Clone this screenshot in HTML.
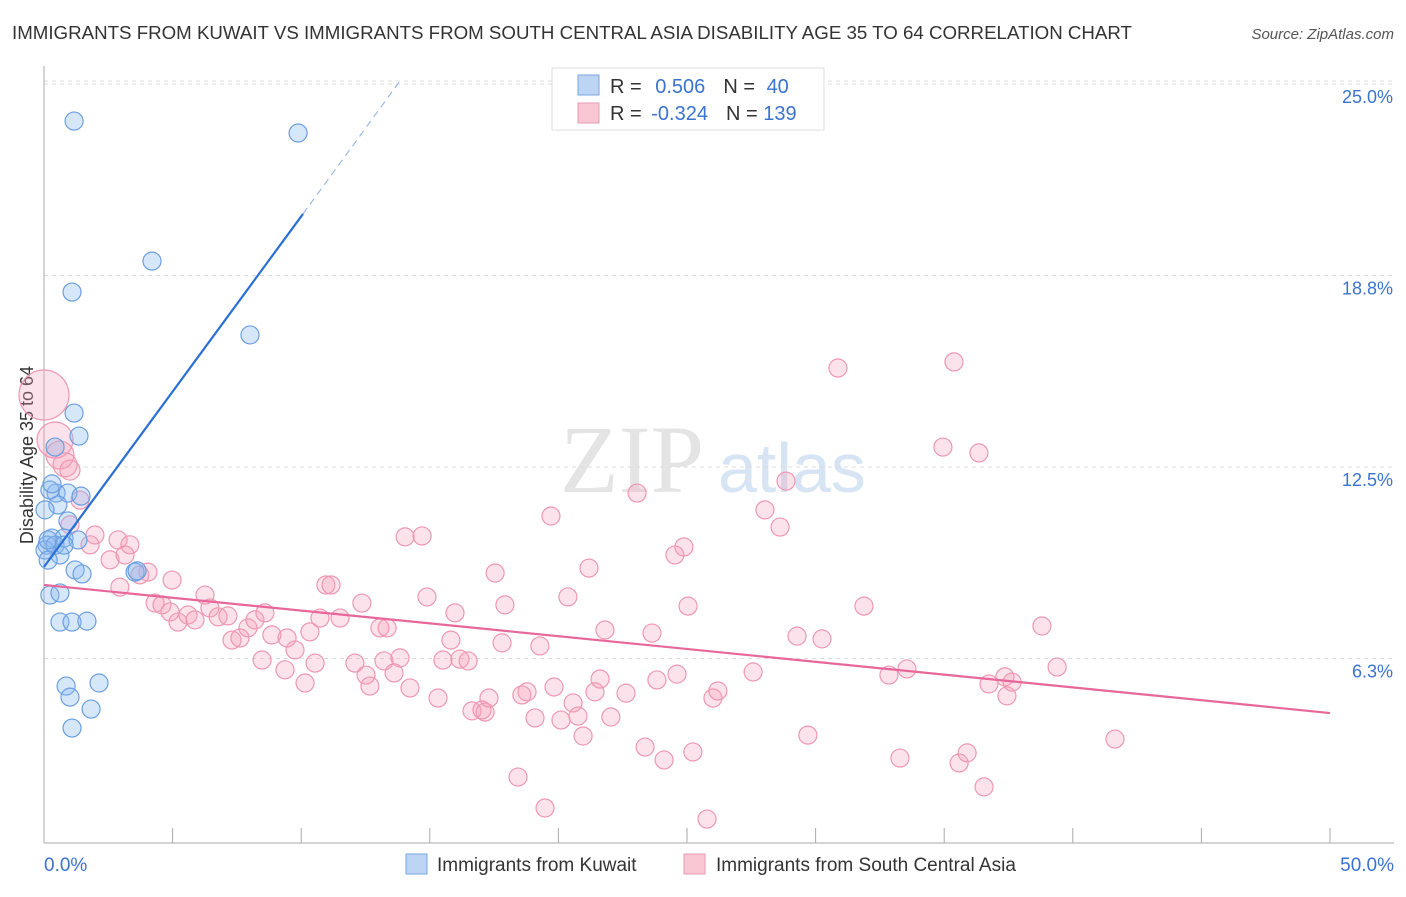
<!DOCTYPE html>
<html><head><meta charset="utf-8"><style>
body{margin:0;background:#fff;font-family:"Liberation Sans",sans-serif}
#wrap{position:relative;width:1406px;height:892px}
</style></head><body>
<div id="wrap">
<svg id="svg" width="1406" height="892">
<text x="12" y="39" font-size="18" fill="#333" textLength="1120" lengthAdjust="spacingAndGlyphs">IMMIGRANTS FROM KUWAIT VS IMMIGRANTS FROM SOUTH CENTRAL ASIA DISABILITY AGE 35 TO 64 CORRELATION CHART</text>
<text x="1394" y="39" font-size="15" fill="#555" font-style="italic" text-anchor="end">Source: ZipAtlas.com</text>
<text x="560" y="492" font-size="96" fill="#e4e4e4" font-family="Liberation Serif,serif">ZIP</text>
<text x="718" y="492" font-size="70" fill="#d6e4f4">atlas</text>
<text transform="translate(33,455) rotate(-90)" font-size="18" fill="#333" text-anchor="middle">Disability Age 35 to 64</text>
<g id="grid"></g><g id="pts"></g><g id="lines"></g>
<g>
<rect x="552" y="68" width="272" height="62" fill="#fff" stroke="#ddd"/>
<rect x="578" y="75" width="21" height="20" fill="#bcd5f5" stroke="#7aa7e0"/>
<rect x="578" y="103" width="21" height="20" fill="#f9c6d4" stroke="#eb9ab3"/>
<text x="610" y="93" font-size="20" fill="#333">R =  <tspan fill="#3a73d0" dx="8">0.506</tspan><tspan dx="18" fill="#333">N =  </tspan><tspan fill="#3a73d0" dx="6">40</tspan></text>
<text x="610" y="120" font-size="20" fill="#333">R = <tspan fill="#3a73d0" dx="4">-0.324</tspan><tspan dx="18" fill="#333">N = </tspan><tspan fill="#3a73d0">139</tspan></text>
</g>
<g>
<rect x="406" y="854" width="21" height="20" fill="#bcd5f5" stroke="#7aa7e0"/>
<text x="437" y="871" font-size="19" fill="#333">Immigrants from Kuwait</text>
<rect x="684" y="854" width="21" height="20" fill="#f9c6d4" stroke="#eb9ab3"/>
<text x="716" y="871" font-size="19" fill="#333">Immigrants from South Central Asia</text>
</g>
</svg></div>
<script>
const yTicks=[6.25,12.5,18.75,25];
const yTickLabels=["6.3%","12.5%","18.8%","25.0%"];
const xTickLabels=["0.0%","50.0%"];
const blueX=[1.17,9.88,4.20,1.09,8.01,1.17,1.36,0.43,0.47,0.93,1.44,0.54,0.93,0.31,0.78,0.12,0.62,1.21,1.48,3.54,0.23,0.62,0.62,1.09,1.67,0.86,1.01,2.14,1.83,1.09,1.32,0.23,0.04,0.04,0.43,0.31,0.16,0.16,0.78,3.62];
const blueY=[23.79,23.40,19.22,18.21,16.81,14.26,13.51,13.15,11.65,11.65,11.55,11.26,10.74,10.18,10.18,9.95,9.63,9.14,9.01,9.07,8.32,8.39,7.44,7.44,7.47,5.35,4.99,5.45,4.60,3.98,10.12,11.75,11.10,9.79,9.95,11.95,10.12,9.46,9.95,9.11];
const pinkX=[0,0.43,0.62,0.82,1.01,1.40,1.01,1.79,1.98,2.88,3.34,2.57,3.15,3.73,4.04,4.98,2.95,4.32,4.59,4.90,5.21,5.60,5.87,6.26,6.45,6.77,7.15,7.31,7.62,7.93,8.20,8.59,8.48,8.86,9.45,9.37,9.76,10.15,10.54,10.34,10.73,10.96,11.16,11.51,12.09,12.36,12.52,12.67,13.06,13.34,13.22,13.84,13.61,14.23,14.04,14.70,14.89,15.32,15.51,15.82,15.98,16.17,16.49,16.64,17.03,17.15,17.30,17.54,17.81,17.92,18.58,18.78,18.43,19.09,19.28,19.48,19.71,19.83,20.10,20.57,20.76,20.96,21.19,21.42,20.37,21.62,21.81,22.04,22.63,23.06,23.37,23.64,23.83,24.11,24.61,24.53,24.88,25.04,25.23,25.78,26.01,26.20,27.57,28.03,28.62,28.85,29.28,29.70,30.25,30.87,31.88,32.85,33.28,33.55,34.95,35.38,35.58,35.89,36.35,36.55,36.74,37.36,37.44,37.64,38.80,39.39,41.64];
const pinkY=[14.85,13.38,12.89,12.57,12.40,11.42,10.61,9.96,10.28,10.12,9.96,9.47,9.63,8.98,9.07,8.81,8.58,8.06,8.00,7.77,7.44,7.67,7.51,8.32,7.90,7.61,7.64,6.85,6.92,7.25,7.51,7.74,6.20,7.02,6.92,5.88,6.53,5.45,6.10,7.12,7.57,8.65,8.65,7.57,6.10,8.06,5.71,5.35,7.25,7.25,6.17,6.27,5.78,5.29,10.22,10.25,8.26,4.96,6.20,6.85,7.74,6.23,6.17,4.54,4.57,4.50,4.96,9.04,6.76,8.00,5.06,5.16,2.38,4.31,6.66,1.37,10.90,5.32,4.24,4.80,4.37,3.72,9.20,5.16,8.26,5.58,7.18,4.34,5.12,11.65,3.36,7.08,5.55,2.94,5.74,9.63,9.89,7.96,3.20,1.01,4.96,5.19,5.81,11.10,10.54,12.04,6.98,3.75,6.89,15.73,7.96,5.71,3.00,5.91,13.15,15.93,2.84,3.17,12.96,2.06,5.42,5.65,5.03,5.48,7.31,5.97,3.62];
const pinkBig={0:25,1:18,2:14,3:12,4:10};
const blueLine=[0,9.24,10.07,20.76,13.84,25.1];
const pinkLine=[0,8.65,50,4.47];
const X=v=>44+v*25.72, Y=v=>850-v*30.64;
const NS="http://www.w3.org/2000/svg";
function mk(p,t,a){const e=document.createElementNS(NS,t);for(const k in a)e.setAttribute(k,a[k]);p.appendChild(e);return e;}
const g=document.getElementById('grid');
yTicks.forEach((t,i)=>{
 const l=mk(g,'line',{x1:44,x2:1394,y1:Y(t),y2:Y(t),stroke:'#ddd','stroke-dasharray':'4,4'});
 
 
 const tx=mk(g,'text',{x:1393,y:Y(t)+19,'font-size':18,fill:'#3a73d0','text-anchor':'end'});tx.textContent=yTickLabels[i];
 
 
});
mk(g,'line',{x1:44,x2:1394,y1:Y(25)-3,y2:Y(25)-3,stroke:'#ddd','stroke-dasharray':'4,4'});
mk(g,'line',{x1:44,x2:44,y1:66,y2:843,stroke:'#aaa'});
mk(g,'line',{x1:44,x2:1394,y1:843,y2:843,stroke:'#aaa'});
for(let i=0;i<=10;i++){mk(g,'line',{x1:X(i*5),x2:X(i*5),y1:828,y2:843,stroke:'#aaa'});}
[0,50].forEach((v,i)=>{const t=mk(g,'text',{x:i?1394:44,y:871,'font-size':19,fill:'#3a73d0','text-anchor':i?'end':'start'});t.textContent=xTickLabels[i];
 
 });
const P=document.getElementById('pts');
pinkX.forEach((v,i)=>{const c=mk(P,'circle',{cx:X(v),cy:Y(pinkY[i]),r:pinkBig[i]||9,fill:'rgba(244,160,186,0.3)',stroke:'#ee98b3','stroke-width':1.2});
 
 });
blueX.forEach((v,i)=>{const c=mk(P,'circle',{cx:X(v),cy:Y(blueY[i]),r:9,fill:'rgba(140,185,240,0.35)',stroke:'#6b9fe0','stroke-width':1.2});
 
 });
const L=document.getElementById('lines');
const b1=mk(L,'line',{x1:X(blueLine[0]),y1:Y(blueLine[1]),x2:X(blueLine[2]),y2:Y(blueLine[3]),stroke:'#2a6fd6','stroke-width':2.2});


mk(L,'line',{x1:X(blueLine[2]),y1:Y(blueLine[3]),x2:X(blueLine[4]),y2:Y(blueLine[5]),stroke:'#9bbbe8','stroke-width':1.2,'stroke-dasharray':'7,5'});
const p1=mk(L,'line',{x1:X(pinkLine[0]),y1:Y(pinkLine[1]),x2:X(pinkLine[2]),y2:Y(pinkLine[3]),stroke:'#e8679a','stroke-width':2.2});


</script>
</body></html>
